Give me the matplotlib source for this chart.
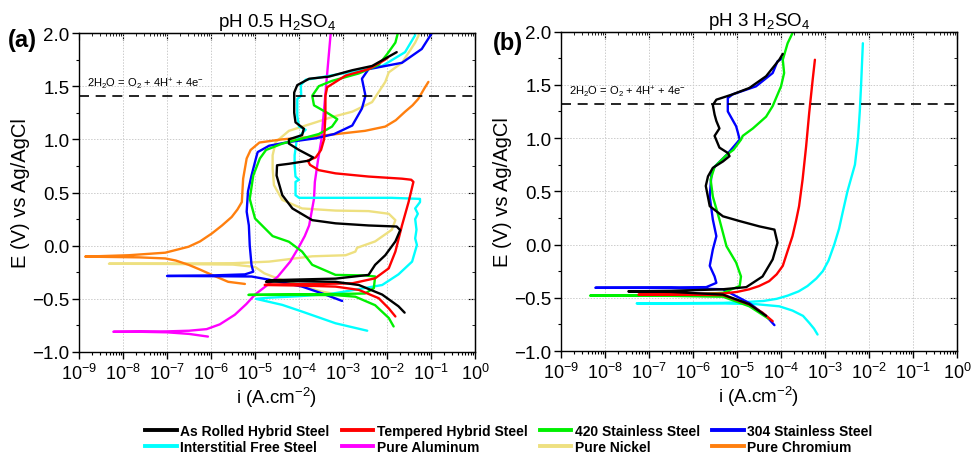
import numpy as np
import matplotlib
matplotlib.use("Agg")
import matplotlib.pyplot as plt
from matplotlib.ticker import FixedLocator, LogLocator, NullFormatter, MultipleLocator, FuncFormatter
from matplotlib.lines import Line2D

plt.rcParams['font.family'] = ['Liberation Sans', 'DejaVu Sans']
plt.rcParams['mathtext.default'] = 'regular'
plt.rcParams['axes.unicode_minus'] = True

# ---------------- data: log10(i [A/cm2]) and E [V vs Ag/AgCl] ----------------
labels = ["As Rolled Hybrid Steel", "Tempered Hybrid Steel", "420 Stainless Steel",
          "304 Stainless Steel", "Interstitial Free Steel", "Pure Aluminum",
          "Pure Nickel", "Pure Chromium"]
colors = ["#000000", "#FF0000", "#00F000", "#0000FF", "#00FFFF", "#FF00FF",
          "#EEE080", "#FF7F0E"]

# panel (a): pH 0.5
a_rolled_logi = [-1.60, -1.74, -2.11, -2.64, -3.17, -4.0, -4.75, -4.68, -3.17, -2.42, -2.27, -2.04,
                 -1.81, -1.70, -1.78, -2.42, -3.17, -3.70, -4.15, -4.38, -4.51, -4.50, -4.23, -3.77,
                 -3.68, -4.0, -4.23, -4.23, -3.93, -3.89, -4.08, -4.11, -4.11, -4.11, -4.04, -3.77,
                 -3.32, -2.79, -2.34, -1.78]
a_rolled_E = [-0.63, -0.57, -0.46, -0.37, -0.34, -0.335, -0.34, -0.325, -0.31, -0.275, -0.18, -0.09,
              0.04, 0.146, 0.18, 0.19, 0.21, 0.24, 0.35, 0.475, 0.66, 0.756, 0.77, 0.80,
              0.83, 0.90, 0.96, 1.0, 1.04, 1.10, 1.16, 1.25, 1.32, 1.44, 1.51, 1.57,
              1.59, 1.65, 1.69, 1.82]

a_temp_logi = [-1.81, -1.96, -2.19, -2.64, -3.17, -4.0, -4.78, -4.70, -3.5, -2.79, -2.27, -1.96,
               -1.81, -1.66, -1.51, -1.40, -1.45, -1.66, -2.42, -3.17, -3.55, -3.75, -3.80, -3.62,
               -3.50, -3.43, -3.40, -3.40, -3.36, -3.17, -2.94, -2.42, -2.04, -1.98]
a_temp_E = [-0.666, -0.59, -0.494, -0.416, -0.385, -0.375, -0.37, -0.365, -0.36, -0.354, -0.307, -0.213,
            -0.056, 0.19, 0.41, 0.60, 0.62, 0.63, 0.65, 0.68, 0.71, 0.76, 0.80, 0.83,
            0.90, 1.0, 1.22, 1.41, 1.49, 1.54, 1.60, 1.66, 1.75, 1.77]

a_420_logi = [-1.85, -1.96, -2.27, -2.72, -3.17, -4.2, -5.15, -4.5, -3.2, -2.5, -2.30, -2.27,
              -2.5, -3.17, -3.70, -3.93, -4.23, -4.6, -5.0, -5.12, -5.04, -4.89, -4.75, -4.38,
              -4.0, -3.55, -3.25, -3.13, -3.32, -3.66, -3.70, -3.55, -3.25, -2.64, -2.19, -2.0,
              -1.81, -1.76]
a_420_E = [-0.76, -0.68, -0.56, -0.48, -0.465, -0.463, -0.463, -0.46, -0.455, -0.45, -0.40, -0.29,
           -0.28, -0.275, -0.18, -0.056, 0.037, 0.09, 0.256, 0.44, 0.66, 0.82, 0.90, 0.96,
           1.0, 1.05, 1.12, 1.19, 1.24, 1.32, 1.41, 1.5, 1.55, 1.62, 1.70, 1.80,
           1.91, 1.99]

a_304_logi = [-3.02, -3.47, -3.93, -4.68, -5.08, -6.0, -7.0, -6.0, -5.23, -5.04, -5.08, -5.12,
              -5.14, -5.19, -5.16, -5.08, -4.98, -4.94, -4.68, -4.23, -3.62, -3.2, -2.79, -2.57,
              -2.49, -2.57, -2.42, -1.66, -1.21, -0.98]
a_304_E = [-0.52, -0.45, -0.385, -0.32, -0.29, -0.287, -0.285, -0.28, -0.27, -0.245, -0.18, 0.0,
           0.19, 0.32, 0.51, 0.66, 0.82, 0.88, 0.94, 0.975, 1.01, 1.05, 1.13, 1.29,
           1.41, 1.57, 1.66, 1.72, 1.85, 2.0]

a_if_logi = [-2.45, -3.17, -3.93, -4.38, -4.98, -4.7, -4.0, -3.3, -2.94, -2.11, -1.74, -1.43,
             -1.32, -1.36, -1.33, -1.36, -1.30, -1.36, -1.25, -1.25, -1.9, -3.0, -4.0, -4.08,
             -4.08, -4.0, -4.08, -4.10, -4.10, -4.05, -3.90, -3.85, -4.0, -4.04, -4.04, -3.95,
             -3.96, -3.85, -3.62, -2.87, -2.11, -1.59, -1.36]
a_if_E = [-0.80, -0.73, -0.62, -0.557, -0.50, -0.49, -0.475, -0.455, -0.43, -0.37, -0.27, -0.15,
          0.006, 0.068, 0.15, 0.25, 0.30, 0.35, 0.41, 0.44, 0.45, 0.45, 0.45, 0.475,
          0.60, 0.62, 0.65, 0.756, 0.85, 1.0, 1.07, 1.09, 1.12, 1.22, 1.38, 1.41,
          1.51, 1.56, 1.575, 1.63, 1.69, 1.82, 1.98]

a_al_logi = [-6.07, -6.5, -7.0, -7.6, -8.22, -7.6, -7.0, -6.5, -6.1, -5.8, -5.46, -5.2,
             -5.0, -4.75, -4.48, -4.2, -4.0, -3.87, -3.77, -3.66, -3.64, -3.57, -3.49, -3.28]
a_al_E = [-0.855, -0.83, -0.815, -0.81, -0.81, -0.808, -0.806, -0.80, -0.785, -0.74, -0.65, -0.55,
          -0.46, -0.38, -0.29, -0.15, -0.01, 0.09, 0.19, 0.44, 0.6, 0.8, 1.0, 2.0]

a_ni_logi = [-3.0, -3.5, -4.0, -4.48, -4.79, -5.0, -5.5, -7.0, -8.32, -7.0, -5.5, -4.68,
             -3.70, -2.94, -2.72, -2.68, -2.27, -1.89, -1.81, -1.96, -2.42, -3.17, -3.93, -4.38,
             -4.57, -4.60, -4.60, -4.53, -4.23, -3.62, -3.25, -2.79, -2.34, -2.04, -1.96, -1.66,
             -1.36, -1.28]
a_ni_E = [-0.47, -0.43, -0.37, -0.31, -0.26, -0.20, -0.178, -0.172, -0.17, -0.168, -0.165, -0.15,
          -0.10, -0.09, -0.056, -0.02, 0.04, 0.15, 0.24, 0.30, 0.325, 0.33, 0.35, 0.43,
          0.57, 0.725, 0.85, 0.975, 1.08, 1.16, 1.21, 1.26, 1.35, 1.54, 1.63, 1.72,
          1.91, 1.98]

a_cr_logi = [-5.23, -5.61, -5.98, -6.25, -6.51, -6.8, -7.04, -7.64, -8.86, -7.87, -7.04, -6.51,
             -6.25, -5.98, -5.75, -5.53, -5.40, -5.30, -5.27, -5.19, -5.10, -4.90, -4.38, -3.8,
             -3.25, -2.5, -2.04, -1.8, -1.59, -1.42, -1.29, -1.15, -1.06]
a_cr_E = [-0.36, -0.34, -0.275, -0.225, -0.18, -0.14, -0.12, -0.11, -0.103, -0.09, -0.066, -0.01,
          0.04, 0.115, 0.19, 0.27, 0.34, 0.41, 0.63, 0.82, 0.90, 0.97, 1.0, 1.02,
          1.045, 1.08, 1.12, 1.18, 1.26, 1.32, 1.38, 1.48, 1.54]

# panel (b): pH 3 (no Al, Ni, Cr)
b_rolled_logi = [-4.34, -4.72, -5.32, -6.5, -7.47, -6.5, -5.32, -4.79, -4.42, -4.19, -4.08, -4.15,
                 -4.49, -4.94, -5.32, -5.62, -5.71, -5.66, -5.55, -5.32, -5.17, -5.21, -5.40, -5.51,
                 -5.40, -5.47, -5.51, -5.55, -5.47, -5.10, -4.72, -4.34, -4.04, -3.96]
b_rolled_E = [-0.67, -0.56, -0.47, -0.445, -0.44, -0.435, -0.42, -0.40, -0.30, -0.14, 0.016, 0.14,
              0.17, 0.22, 0.265, 0.36, 0.55, 0.64, 0.72, 0.78, 0.83, 0.86, 0.91, 1.02,
              1.09, 1.16, 1.22, 1.31, 1.36, 1.41, 1.47, 1.58, 1.735, 1.79]

b_temp_logi = [-4.19, -4.42, -4.72, -5.32, -6.5, -7.24, -6.5, -5.32, -5.0, -4.72, -4.5, -4.27,
               -4.1, -3.96, -3.85, -3.74, -3.66, -3.59, -3.51, -3.43, -3.36, -3.28, -3.23]
b_temp_E = [-0.72, -0.64, -0.563, -0.475, -0.47, -0.47, -0.465, -0.46, -0.445, -0.42, -0.39, -0.344,
            -0.28, -0.20, -0.06, 0.078, 0.22, 0.36, 0.61, 0.92, 1.235, 1.55, 1.735]

b_420_logi = [-4.27, -4.72, -5.32, -6.5, -8.34, -6.5, -6.07, -5.32, -4.94, -4.91, -5.02, -5.24,
              -5.40, -5.55, -5.60, -5.51, -5.24, -5.08, -4.91, -4.87, -4.64, -4.34, -4.19, -4.0,
              -3.93, -3.96, -3.85, -3.74]
b_420_E = [-0.70, -0.58, -0.49, -0.482, -0.48, -0.475, -0.47, -0.453, -0.39, -0.30, -0.17, -0.016,
           0.235, 0.45, 0.61, 0.73, 0.84, 0.89, 0.985, 1.02, 1.09, 1.20, 1.30, 1.485,
           1.61, 1.735, 1.89, 1.985]

b_304_logi = [-4.15, -4.34, -4.72, -5.32, -6.5, -8.22, -6.5, -5.70, -5.47, -5.51, -5.62, -5.55,
              -5.47, -5.55, -5.62, -5.58, -5.51, -5.24, -4.94, -4.98, -5.02, -5.21, -5.21, -5.10,
              -4.57, -4.19, -4.08, -3.96]
b_304_E = [-0.757, -0.67, -0.55, -0.42, -0.408, -0.406, -0.403, -0.40, -0.36, -0.30, -0.20, -0.047,
           0.078, 0.235, 0.45, 0.67, 0.73, 0.84, 0.985, 1.05, 1.11, 1.25, 1.375, 1.41,
           1.485, 1.61, 1.72, 1.75]

b_if_logi = [-3.17, -3.25, -3.36, -3.5, -3.74, -4.04, -4.57, -5.32, -7.28, -5.32, -4.8, -4.4,
             -4.1, -3.85, -3.6, -3.4, -3.2, -3.05, -2.92, -2.79, -2.68, -2.60, -2.49, -2.32,
             -2.25, -2.21, -2.18, -2.14]
b_if_E = [-0.845, -0.79, -0.735, -0.67, -0.62, -0.58, -0.56, -0.553, -0.553, -0.548, -0.54, -0.53,
          -0.51, -0.48, -0.44, -0.39, -0.32, -0.25, -0.15, 0.0, 0.15, 0.30, 0.50, 0.75,
          1.0, 1.25, 1.5, 1.89]

panel_a = [(a_rolled_logi, a_rolled_E), (a_temp_logi, a_temp_E), (a_420_logi, a_420_E),
           (a_304_logi, a_304_E), (a_if_logi, a_if_E), (a_al_logi, a_al_E),
           (a_ni_logi, a_ni_E), (a_cr_logi, a_cr_E)]
panel_b = [(b_rolled_logi, b_rolled_E), (b_temp_logi, b_temp_E), (b_420_logi, b_420_E),
           (b_304_logi, b_304_E), (b_if_logi, b_if_E)]

titles = ["pH 0.5 H$_2$SO$_4$", "pH 3 H$_2$SO$_4$"]
panel_tags = ["(a)", "(b)"]
oer_E = [1.41, 1.32]
oer_text = "2H$_2$O = O$_2$ + 4H$^{+}$ + 4e$^{-}$"
xticks = [1e-9, 1e-8, 1e-7, 1e-6, 1e-5, 1e-4, 1e-3, 1e-2, 1e-1, 1e0]

# ---------------- figure ----------------
fig = plt.figure(figsize=(9.71, 4.56), dpi=100)
ax_a = fig.add_axes([0.0814, 0.2259, 0.4078, 0.6995])
ax_b = fig.add_axes([0.5778, 0.2280, 0.4078, 0.7007])

for k, (ax, curves) in enumerate([(ax_a, panel_a), (ax_b, panel_b)]):
    order = [6, 7, 5, 4, 3, 2, 1, 0] if k == 0 else [4, 3, 2, 1, 0]
    for idx in order:
        li, e = curves[idx]
        ax.plot(10.0 ** np.array(li), e, color=colors[idx], lw=1.7,
                solid_capstyle='round', solid_joinstyle='round')
    ax.axhline(oer_E[k], color='black', lw=1.2, ls=(0, (6, 4)))
    ax.text(1.5e-9, oer_E[k] + 0.045, oer_text, fontsize=8, va='bottom', ha='left')
    ax.set_xscale('log')
    ax.set_xlim(1e-9, 1)
    ax.set_ylim(-1.0, 2.0)
    ax.xaxis.set_major_locator(FixedLocator(xticks))
    ax.xaxis.set_minor_locator(LogLocator(base=10, subs=np.arange(2, 10), numticks=100))
    ax.xaxis.set_minor_formatter(NullFormatter())
    ax.yaxis.set_major_locator(MultipleLocator(0.5))
    ax.yaxis.set_minor_locator(MultipleLocator(0.25))
    ax.yaxis.set_major_formatter(FuncFormatter(lambda v, p: f"{v:.1f}".replace('-', '\u2212')))
    ax.grid(True, which='major', color='#cccccc', ls=(0, (1.5, 1.5)), lw=0.7)
    ax.tick_params(axis='y', which='major', direction='out', length=5, width=1, labelsize=13.5, pad=2)
    ax.tick_params(axis='x', which='major', direction='out', length=5, width=1, labelsize=13, pad=3)
    ax.tick_params(which='minor', direction='out', length=2.5, width=0.8)
    for sp in ax.spines.values():
        sp.set_linewidth(1.0)
    sx = ax.secondary_xaxis('top')
    sx.xaxis.set_major_locator(FixedLocator(xticks))
    sx.xaxis.set_minor_locator(LogLocator(base=10, subs=np.arange(2, 10), numticks=100))
    sx.tick_params(which='major', direction='in', length=5, labeltop=False)
    sx.tick_params(which='minor', direction='in', length=2.5)
    sx.xaxis.set_minor_formatter(NullFormatter())
    sy = ax.secondary_yaxis('right')
    sy.yaxis.set_major_locator(MultipleLocator(0.5))
    sy.yaxis.set_minor_locator(MultipleLocator(0.25))
    sy.tick_params(which='major', direction='in', length=5, labelright=False)
    sy.tick_params(which='minor', direction='in', length=2.5)
    ax.set_xlabel("i (A.cm$^{-2}$)", fontsize=13.5, labelpad=1)
    ax.set_ylabel("E (V) vs Ag/AgCl", fontsize=14.5, labelpad=1.5)
    ax.set_title(titles[k], fontsize=13.5, pad=5)

fig.text(0.008, 0.912, panel_tags[0], fontsize=17, fontweight='bold', va='center', ha='left')
fig.text(0.508, 0.905, panel_tags[1], fontsize=17, fontweight='bold', va='center', ha='left')

# legend, column-major order for 4 columns x 2 rows
leg_order = [0, 4, 1, 5, 2, 6, 3, 7]
handles = [Line2D([], [], color=colors[i], lw=2.8) for i in leg_order]
leg_labels = [labels[i] for i in leg_order]
fig.legend(handles, leg_labels, ncol=4, loc='center', bbox_to_anchor=(0.524, 0.035),
           frameon=False, handlelength=2.3, handletextpad=0.25, columnspacing=0.85,
           labelspacing=0.12, prop={'family': 'Liberation Sans', 'weight': 'bold', 'size': 10})

fig.savefig("out.png", dpi=100)
